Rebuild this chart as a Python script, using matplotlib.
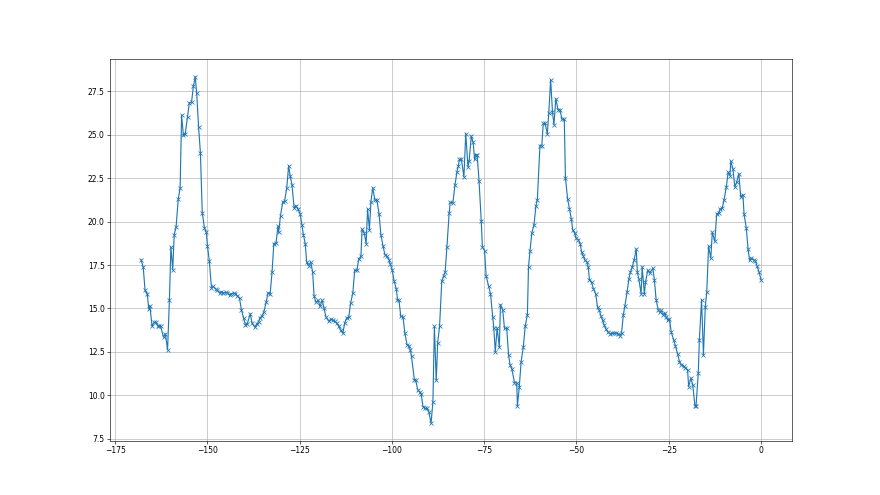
import matplotlib
matplotlib.use("Agg")
import matplotlib.pyplot as plt

hours = [
    -168.0, -167.4, -166.9, -166.3, -165.9, -165.6, -165.0, -164.5, -163.9, -163.4,
    -163.0, -162.7, -161.9, -161.4, -160.8, -160.3, -159.9, -159.4, -159.0, -158.5,
    -157.9, -157.4, -157.0, -156.5, -156.0, -155.4, -154.9, -154.3, -153.8, -153.3,
    -152.9, -152.4, -151.9, -151.4, -150.8, -150.3, -150.0, -149.5, -148.9, -148.4,
    -147.8, -147.3, -146.7, -146.2, -145.7, -145.1, -144.6, -144.0, -143.5, -142.9,
    -142.4, -141.9, -141.3, -140.8, -140.2, -139.7, -139.2, -138.4, -137.9, -137.2,
    -136.6, -136.1,
    -135.8, -135.2, -134.7, -134.1, -133.6, -133.0, -132.5, -132.0, -131.4, -130.9,
    -130.7, -130.2, -129.6, -129.1, -128.5, -128.0, -127.6, -127.1, -126.5, -126.0,
    -125.5, -124.9, -124.4, -124.0, -123.5, -123.1, -122.6, -122.0, -121.5, -121.1,
    -120.6, -120.0, -119.5, -118.9, -118.4, -117.9, -117.1, -116.6, -116.0, -115.5,
    -115.0, -114.4, -113.9, -113.3, -112.8, -112.3, -111.7, -111.2, -110.6, -110.1,
    -109.5, -109.0,
    -108.4, -108.1, -107.5, -107.0, -106.6, -106.1, -105.7, -105.2, -104.6, -104.1,
    -103.5, -103.0, -102.4, -101.9, -101.4, -100.8, -100.5, -99.9, -99.4, -98.8,
    -98.5, -98.1, -97.6, -97.0, -96.5, -95.9, -95.4, -95.0, -94.7, -93.9,
    -93.6, -93.0, -92.5, -92.1, -91.6, -91.0, -90.5, -90.0, -89.4, -88.9,
    -88.5, -88.0, -87.6, -87.1, -86.5, -86.0, -85.6, -85.1, -84.5, -84.2,
    -83.5, -82.9, -82.4, -82.0, -81.7,
    -81.2, -80.5, -80.0, -79.4, -79.1, -78.5, -78.0, -77.6, -77.3, -76.9,
    -76.4, -75.8, -75.5, -74.9, -74.5, -73.8, -73.3, -72.7, -72.4, -72.0,
    -71.5, -70.9, -70.6, -70.0, -69.5, -68.9, -68.4, -68.0, -67.5, -66.8,
    -66.2, -66.0, -65.5, -65.0, -64.4, -63.9, -63.3, -63.0, -62.6, -62.1,
    -61.5, -61.0, -60.6, -59.9, -59.4, -59.0, -58.5, -57.9, -57.5, -57.0,
    -56.5, -56.1, -55.6, -55.0, -54.5,
    -53.9, -53.3, -53.0, -52.4, -51.9, -51.4, -51.0, -50.5, -50.1, -49.5,
    -49.0, -48.6, -48.1, -47.7, -47.2, -46.8, -46.5, -45.9, -45.4, -44.8,
    -44.3, -43.8, -43.4, -42.9, -42.5, -42.0, -41.4, -40.9, -40.3, -39.8,
    -39.2, -38.7, -38.3, -37.8, -37.3, -36.9, -36.3, -35.8, -35.4, -34.9,
    -34.4, -33.8, -33.5, -33.1, -32.5, -32.2, -31.6, -31.3, -30.7, -30.2,
    -29.3, -28.9, -28.4, -27.8, -27.3,
    -27.0, -26.6, -26.1, -25.7, -25.2, -24.8, -24.3, -23.7, -23.2, -22.6,
    -22.1, -21.6, -21.0, -20.5, -19.9, -19.6, -19.0, -18.5, -17.9, -17.6,
    -17.0, -16.7, -16.1, -15.6, -15.1, -14.7, -14.2, -13.6, -13.2, -12.5,
    -12.0, -11.4, -11.1, -10.5, -10.0, -9.4, -8.9, -8.4, -8.2, -7.6,
    -7.1, -6.6, -6.0, -5.5, -4.9, -4.6, -4.0, -3.5, -3.1, -2.6,
    -2.0, -1.5, -1.1, -0.5, 0.0,
]

temperature = [
    17.81, 17.38, 16.04, 15.85, 14.97, 15.16, 13.97, 14.20, 14.20, 13.97,
    14.01, 13.97, 13.35, 13.55, 12.62, 15.50, 18.54, 17.23, 19.25, 19.67,
    21.30, 21.93, 26.10, 24.95, 25.06, 26.02, 26.83, 26.87, 27.79, 28.33,
    27.37, 25.45, 23.95, 20.50, 19.63, 19.38, 18.61, 17.75, 16.16, 16.27,
    16.12, 16.04, 15.89, 15.96, 15.89, 15.93, 15.89, 15.77, 15.85, 15.89,
    15.85, 15.73, 15.58, 14.93, 14.45, 14.06, 14.12, 14.70, 14.16, 13.93,
    14.12, 14.24,
    14.45, 14.58, 14.81, 15.35, 15.89, 15.85, 17.08, 18.73, 18.77, 19.73,
    19.38, 20.34, 21.11, 21.17, 21.93, 23.22, 22.64, 22.13, 20.78, 20.92,
    20.72, 20.46, 19.82, 19.25, 18.73, 17.65, 17.46, 17.65, 17.12, 15.73,
    15.35, 15.47, 15.12, 15.47, 15.02, 14.51, 14.26, 14.39, 14.31, 14.26,
    14.16, 13.97, 13.74, 13.58, 14.16, 14.45, 14.51, 15.31, 15.89, 17.19,
    17.19, 17.85,
    18.00, 19.57, 19.34, 18.73, 20.72, 19.53, 21.15, 21.93, 21.22, 21.26,
    20.46, 19.25, 18.57, 18.10, 18.00, 17.81, 17.58, 17.19, 16.56, 16.12,
    15.50, 15.47, 14.54, 14.51, 13.58, 12.91, 12.86, 12.59, 12.24, 10.86,
    10.90, 10.32, 10.20, 10.09, 9.36, 9.26, 9.25, 9.05, 8.40, 9.63,
    13.97, 10.86, 13.04, 13.97, 16.56, 16.89, 17.08, 18.54, 20.50, 21.11,
    21.07, 22.13, 22.84, 23.22, 23.57,
    23.60, 22.57, 25.06, 23.14, 23.47, 24.91, 24.56, 23.57, 23.85, 23.80,
    22.32, 20.01, 18.54, 18.33, 16.89, 16.27, 15.85, 14.51, 13.87, 12.51,
    13.87, 12.78, 15.22, 14.93, 13.85, 13.85, 12.34, 11.76, 11.51, 10.74,
    10.74, 9.40, 10.47, 11.94, 12.78, 13.97, 14.64, 17.38, 18.29, 19.34,
    19.82, 20.88, 21.26, 24.37, 24.37, 25.64, 25.64, 25.06, 26.25, 28.17,
    26.29, 25.58, 27.06, 26.44, 26.44,
    25.87, 25.87, 22.53, 21.30, 20.72, 20.15, 19.50, 19.34, 19.04, 18.96,
    18.73, 18.23, 18.00, 17.77, 17.69, 17.38, 16.66, 16.50, 16.12, 15.85,
    15.08, 14.89, 14.58, 14.31, 14.06, 13.81, 13.62, 13.55, 13.58, 13.58,
    13.58, 13.55, 13.43, 13.58, 14.64, 15.12, 15.93, 16.69, 17.08, 17.38,
    17.77, 18.42, 17.08, 16.69, 15.85, 17.38, 15.85, 16.50, 17.19, 17.04,
    17.31, 16.66, 15.47, 14.89, 14.77,
    14.89, 14.64, 14.74, 14.51, 14.31, 14.39, 13.62, 13.20, 12.86, 12.39,
    11.95, 11.76, 11.70, 11.57, 11.47, 10.51, 10.99, 10.61, 9.40, 9.40,
    11.28, 13.20, 15.50, 12.33, 15.08, 15.93, 18.57, 17.90, 19.38, 18.86,
    20.46, 20.49, 20.72, 20.78, 21.26, 21.97, 22.84, 22.64, 23.47, 23.03,
    21.99, 22.26, 22.76, 21.42, 21.55, 20.46, 19.63, 18.42, 17.77, 17.90,
    17.81, 17.71, 17.46, 17.08, 16.66,
]

fig, ax = plt.subplots(figsize=(16, 9), dpi=55)
ax.plot(hours, temperature, marker="x", color="C0")
ax.grid(True)
fig.savefig("out.png", dpi=55)
